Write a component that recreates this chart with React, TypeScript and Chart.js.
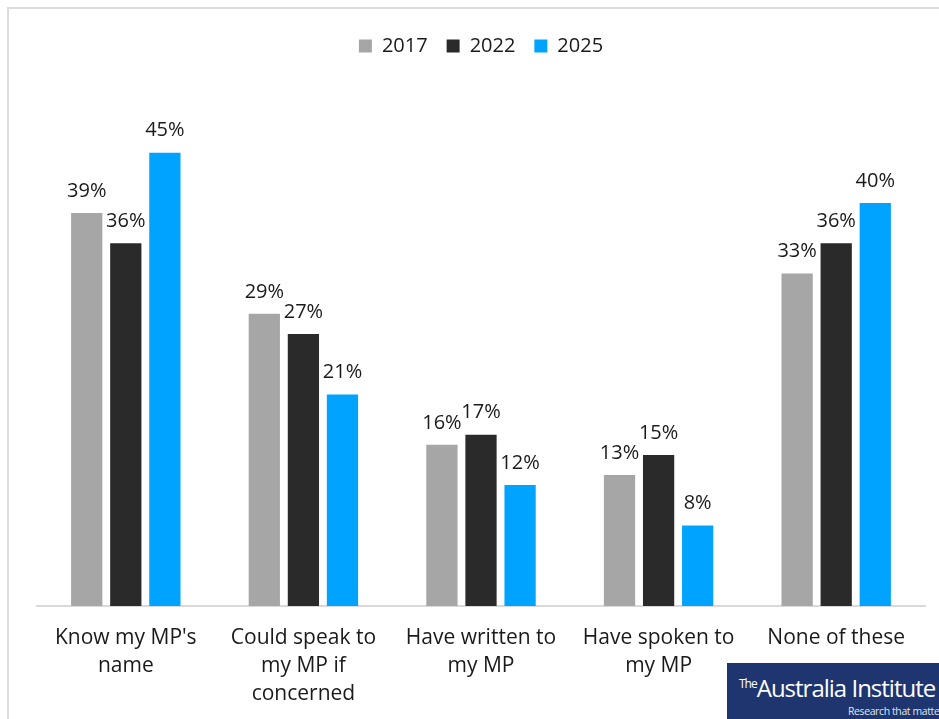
import React, { useEffect, useRef } from "react";
import { Chart, registerables } from "chart.js";

Chart.register(...registerables);

const categories: (string | string[])[] = [
  ["Know my MP's", "name"],
  ["Could speak to", "my MP if", "concerned"],
  ["Have written to", "my MP"],
  ["Have spoken to", "my MP"],
  "None of these",
];
const values2017 = [39, 29, 16, 13, 33];
const values2022 = [36, 27, 17, 15, 36];
const values2025 = [45, 21, 12, 8, 40];
const seriesNames = ["2017", "2022", "2025"];
const seriesColors = ["#a6a6a6", "#2a2a2a", "#00a3ff"];

const FONT = "'Open Sans', 'DejaVu Sans', sans-serif";

const labelPlugin = {
  id: "barLabels",
  afterDatasetsDraw(chart: any) {
    const ctx = chart.ctx;
    ctx.save();
    ctx.font = `20px ${FONT}`;
    ctx.fillStyle = "#1a1a1a";
    ctx.textAlign = "center";
    ctx.textBaseline = "bottom";
    chart.data.datasets.forEach((ds: any, i: number) => {
      const meta = chart.getDatasetMeta(i);
      meta.data.forEach((bar: any, j: number) => {
        ctx.fillText(`${ds.data[j]}%`, bar.x, bar.y - 12);
      });
    });
    ctx.restore();
  },
};

export default function App() {
  const ref = useRef<HTMLCanvasElement>(null);
  useEffect(() => {
    if (!ref.current) return;
    const chart = new Chart(ref.current, {
      type: "bar",
      data: {
        labels: categories,
        datasets: [values2017, values2022, values2025].map((d, i) => ({
          label: seriesNames[i],
          data: d,
          backgroundColor: seriesColors[i],
          borderWidth: 0,
          categoryPercentage: 0.66,
          barPercentage: 0.8,
        })),
      },
      options: {
        animation: false,
        responsive: false,
        maintainAspectRatio: false,
        layout: { padding: { left: 37, right: 14, top: 17, bottom: 0 } },
        plugins: {
          legend: {
            position: "top",
            labels: {
              boxWidth: 13,
              boxHeight: 13,
              padding: 19,
              color: "#1a1a1a",
              font: { family: FONT, size: 20 },
            },
          },
          tooltip: { enabled: false },
        },
        scales: {
          x: {
            grid: { display: false, drawTicks: false },
            border: { color: "#d9d9d9", width: 2 },
            ticks: {
              color: "#1a1a1a",
              padding: 18,
              maxRotation: 0,
              autoSkip: false,
              font: { family: FONT, size: 21, lineHeight: 1.3333 },
            },
          },
          y: {
            display: false,
            min: 0,
            max: 53.6,
          },
        },
      },
      plugins: [labelPlugin],
    });
    return () => chart.destroy();
  }, []);

  return (
    <div style={{ position: "fixed", left: 0, top: 0, width: 939, height: 719, background: "#fff", overflow: "hidden" }}>
      <div
        style={{
          position: "absolute",
          left: 7,
          top: 7,
          width: 1000,
          height: 1000,
          borderLeft: "2px solid #dcdcdc",
          borderTop: "2px solid #dcdcdc",
        }}
      />
      <canvas ref={ref} width={939} height={726} style={{ position: "absolute", left: 0, top: 0 }} />
      <div
        style={{
          position: "absolute",
          left: 727,
          top: 663,
          width: 212,
          height: 56,
          background: "#1e3570",
          color: "#fff",
          overflow: "hidden",
          fontFamily: "'Open Sans', sans-serif",
        }}
      >
        <div style={{ position: "absolute", left: 12, top: 8, whiteSpace: "nowrap", letterSpacing: -1 }}>
          <span style={{ fontSize: 12, verticalAlign: 9 }}>The</span>
          <span style={{ fontSize: 24 }}>Australia Institute</span>
        </div>
        <div style={{ position: "absolute", left: 121, top: 41, fontSize: 10.5, whiteSpace: "nowrap", color: "#dfe4ee", letterSpacing: -0.4 }}>
          Research that matters
        </div>
      </div>
    </div>
  );
}
